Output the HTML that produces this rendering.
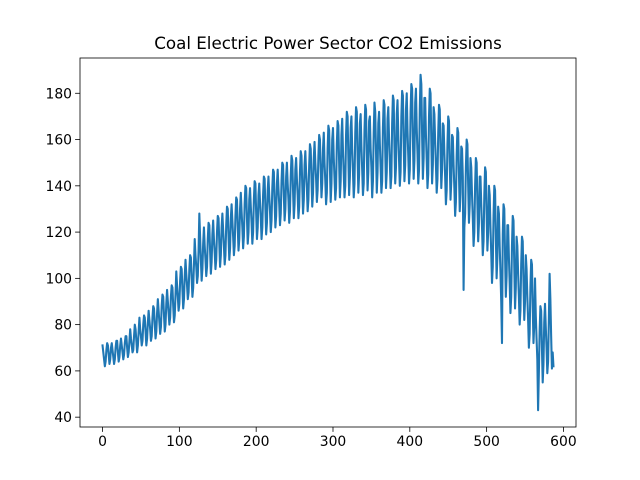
<!DOCTYPE html>
<html><head><meta charset="utf-8"><style>
html,body{margin:0;padding:0;background:#fff}
svg{display:block;font-family:"DejaVu Sans","Liberation Sans",sans-serif}
</style></head><body>
<svg id="chart" width="640" height="480" viewBox="0 0 640 480">
<rect width="640" height="480" fill="#fff"/>
<text x="328" y="49" text-anchor="middle" font-size="16.7" fill="#000">Coal Electric Power Sector CO2 Emissions</text>
<g id="xticks"></g>
<g id="yticks"></g>
<path id="line" fill="none" stroke="#1f77b4" stroke-width="2.08" stroke-linejoin="round" stroke-linecap="square"/>
<rect x="80" y="58" width="496" height="369" fill="none" stroke="#000" stroke-width="0.8"/>
</svg>
<script>
const emissions = [
71,68,65,62,64,69,72,71,67,63,65,70,
72,69,66,63,65,70,73,73,68,64,66,71,
74,71,68,65,67,72,75,75,70,66,68,73,
78,74,71,68,69,75,80,78,73,68,71,77,
83,78,75,71,73,80,84,83,77,71,74,81,
86,82,78,73,75,83,88,87,80,74,77,85,
91,86,81,76,79,88,93,92,84,77,80,89,
95,90,85,80,83,92,97,96,88,81,84,93,
103,97,92,86,89,99,105,104,95,87,91,101,
108,102,97,91,94,104,110,109,100,92,96,106,
117,110,105,98,101,112,128,118,108,99,104,115,
122,114,108,101,105,117,124,123,112,102,107,119,
125,117,111,104,108,120,127,126,115,105,110,122,
128,121,114,106,110,123,131,130,118,108,113,126,
132,125,118,110,114,127,135,134,122,112,117,130,
137,129,122,113,118,132,140,139,126,115,120,134,
139,131,124,115,120,134,142,141,128,117,122,136,
141,133,126,117,122,136,144,143,130,119,124,138,
144,136,129,120,125,139,147,146,133,122,127,141,
147,139,132,123,128,142,150,149,136,125,130,144,
150,141,134,124,129,144,153,151,138,126,132,147,
152,143,136,126,131,146,155,153,140,128,134,149,
155,146,139,129,134,149,158,156,143,131,137,152,
159,150,143,133,138,153,162,160,147,135,141,156,
163,150,142,132,137,156,166,164,148,133,141,160,
165,152,143,134,139,158,168,166,150,135,142,162,
169,155,145,135,140,162,172,170,152,136,144,165,
170,156,146,135,141,163,174,172,153,137,145,167,
171,157,147,136,141,164,175,173,154,138,146,168,
170,156,148,135,142,163,176,172,155,137,146,167,
172,158,148,137,142,165,177,175,155,139,146,169,
174,160,150,139,144,167,179,177,157,141,148,171,
177,162,151,140,146,170,181,179,159,142,149,173,
180,164,153,141,147,172,184,182,161,143,151,176,
182,165,154,141,147,173,188,184,162,143,152,178,
178,162,151,139,145,170,182,180,159,141,149,174,
171,159,149,137,143,163,175,173,155,139,147,167,
166,154,144,132,138,158,170,168,150,134,142,162,
161,149,139,127,133,153,165,163,145,129,137,157,
156,144,95,122,128,148,160,158,140,124,132,152,
148,136,126,114,120,140,152,150,132,116,124,144,
144,132,122,110,116,136,148,146,128,112,120,140,
136,122,111,98,105,127,140,138,118,100,109,131,
128,114,103,90,72,119,132,130,110,92,101,123,
123,109,98,85,92,114,127,125,105,87,96,118,
114,102,92,80,86,106,118,116,98,82,90,110,
104,92,82,70,76,96,108,106,88,72,80,100,
84,74,65,43,59,77,88,86,70,55,63,81,
89,79,70,59,64,82,102,91,75,61,68,62
];
const xTickValues = [0,100,200,300,400,500,600];
const yTickValues = [40,60,80,100,120,140,160,180];

const L=80,R=576,T=58,B=427;
const xMin=-29.35,xMax=616.35,yMin=35.75,yMax=195.25;
function xs(v){return L+(v-xMin)/(xMax-xMin)*(R-L);}
function ys(v){return B-(v-yMin)/(yMax-yMin)*(B-T);}
const NS="http://www.w3.org/2000/svg";
let d="";
emissions.forEach((v,i)=>{d+=(i?"L":"M")+xs(i).toFixed(2)+","+ys(v).toFixed(2);});
document.getElementById("line").setAttribute("d",d);
const gx=document.getElementById("xticks");
xTickValues.forEach(v=>{
  const x=xs(v);
  const ln=document.createElementNS(NS,"line");
  ln.setAttribute("x1",x);ln.setAttribute("x2",x);ln.setAttribute("y1",B);ln.setAttribute("y2",B+4.9);
  ln.setAttribute("stroke","#000");ln.setAttribute("stroke-width","0.8");
  
  
  gx.appendChild(ln);
  const t=document.createElementNS(NS,"text");
  t.setAttribute("x",x);t.setAttribute("y",B+19);t.setAttribute("text-anchor","middle");t.setAttribute("font-size","13.9");
  t.textContent=v;
  
  
  gx.appendChild(t);
});
const gy=document.getElementById("yticks");
yTickValues.forEach(v=>{
  const y=ys(v);
  const ln=document.createElementNS(NS,"line");
  ln.setAttribute("x1",L-4.9);ln.setAttribute("x2",L);ln.setAttribute("y1",y);ln.setAttribute("y2",y);
  ln.setAttribute("stroke","#000");ln.setAttribute("stroke-width","0.8");
  
  
  gy.appendChild(ln);
  const t=document.createElementNS(NS,"text");
  t.setAttribute("x",L-8);t.setAttribute("y",y+5);t.setAttribute("text-anchor","end");t.setAttribute("font-size","13.9");
  t.textContent=v;
  
  
  gy.appendChild(t);
});
</script>
</body></html>
